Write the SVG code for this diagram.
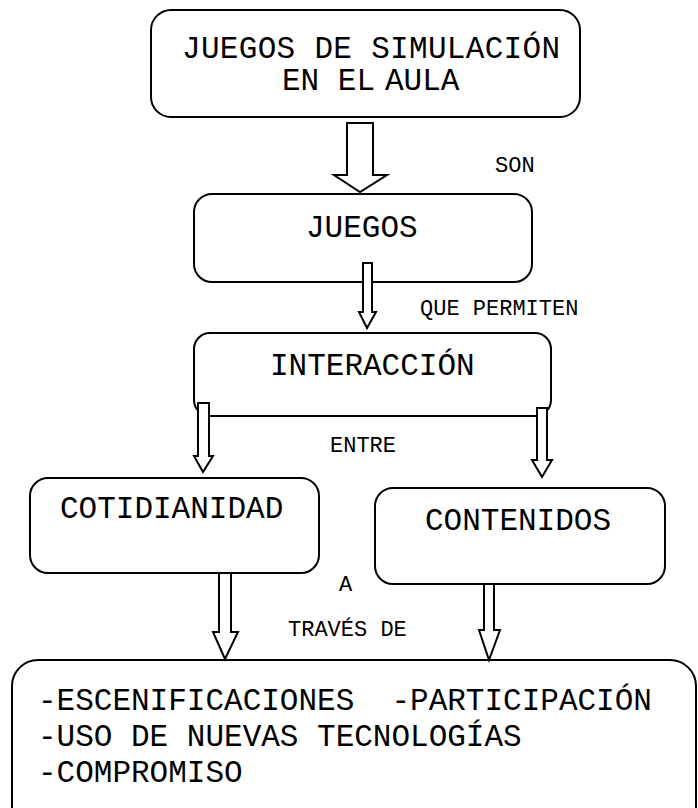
<svg xmlns="http://www.w3.org/2000/svg" width="698" height="808" viewBox="0 0 698 808">
<style>
.box{fill:#fff;stroke:#000;stroke-width:2}
.arr{fill:#fff;stroke:#000;stroke-width:2;stroke-linejoin:miter}
.big{font-family:"Liberation Mono","Courier New",monospace;font-size:31px;fill:#000;white-space:pre}
.sm{font-family:"Liberation Mono","Courier New",monospace;font-size:22px;fill:#000}
</style>
<rect width="698" height="808" fill="#fff"/>
<g id="n1">
<rect class="box" x="151" y="10" width="429" height="107" rx="20"/>
<text class="big" x="182" y="58" textLength="378" lengthAdjust="spacing">JUEGOS DE SIMULACIÓN</text>
<text class="big" y="90"><tspan x="282">EN EL</tspan><tspan x="385">AULA</tspan></text>
</g>
<g id="n2">
<rect class="box" x="194" y="194" width="338" height="88" rx="18"/>
<text class="big" x="306" y="237">JUEGOS</text>
</g>
<g id="n3">
<rect class="box" x="194" y="333" width="357" height="83" rx="16"/>
<text class="big" x="270" y="375">INTERACCIÓN</text>
</g>
<g id="n4">
<rect class="box" x="30" y="478" width="289" height="95" rx="18"/>
<text class="big" x="60" y="518">COTIDIANIDAD</text>
</g>
<g id="n5">
<rect class="box" x="375" y="488" width="290" height="96" rx="18"/>
<text class="big" x="425" y="530">CONTENIDOS</text>
</g>
<g id="n6">
<rect class="box" x="12" y="660" width="684" height="180" rx="26"/>
<text class="big" x="38" y="710" xml:space="preserve">-ESCENIFICACIONES  -PARTICIPACIÓN</text>
<text class="big" x="38" y="746">-USO DE NUEVAS TECNOLOGÍAS</text>
<text class="big" x="38" y="782">-COMPROMISO</text>
</g>
<g id="connectors">
<polygon class="arr" points="347,123 373,123 373,175 387,175 360,192 334,175 347,175"/>
<polygon class="arr" points="363,263 372,263 372,312 376,312 367,328 359,312 363,312"/>
<polygon class="arr" points="198,403 209,403 209,456 213,456 203,472 194,456 198,456"/>
<polygon class="arr" points="537,408 547,408 547,460 552,460 542,477 532,460 537,460"/>
<line x1="209" y1="416" x2="537" y2="416" stroke="#000" stroke-width="2"/>
<polygon class="arr" points="219,573 231,573 231,632 238,632 225,659 213,632 219,632"/>
<polygon class="arr" points="484,584 494,584 494,630 500,630 489,660 479,630 484,630"/>
<text class="sm" x="495" y="172">SON</text>
<text class="sm" x="420" y="315">QUE PERMITEN</text>
<text class="sm" x="330" y="452">ENTRE</text>
<text class="sm" x="339" y="591">A</text>
<text class="sm" x="288" y="636">TRAVÉS DE</text>
</g>
</svg>
